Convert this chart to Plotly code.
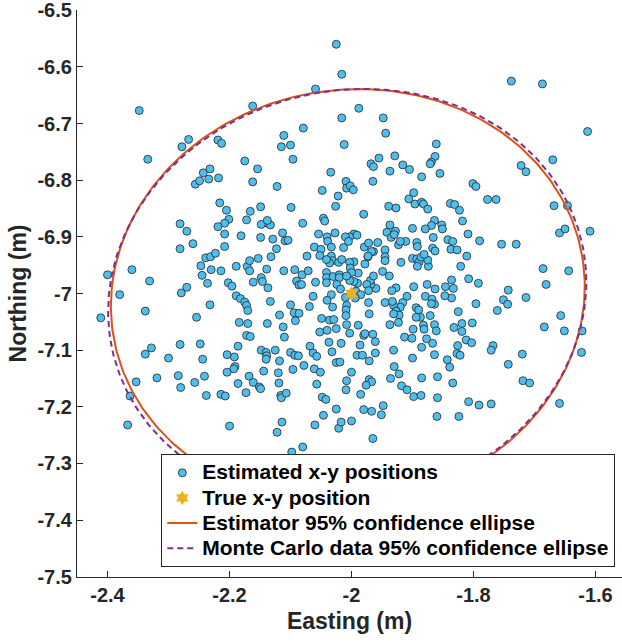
import numpy as np
import plotly.graph_objects as go

# ---------------- data (metres) ----------------
easting = [
 -2.348,-2.334,-2.278,-2.267,-2.219,-2.213,-2.162,-2.059,-2.079,-2.111,
 -2.115,-2.100,-2.096,-2.175,-2.154,-2.162,-2.256,-2.249,-2.243,-2.232,
 -2.234,-2.218,-2.122,-2.216,-2.205,-2.201,-2.208,-2.219,-2.208,-2.208,
 -2.281,-2.270,-2.260,-2.281,-2.172,-2.181,-2.166,-2.149,-2.138,-2.133,
 -2.148,-2.138,-2.099,-2.080,-2.113,-2.109,-2.104,-2.129,-2.149,-2.123,
 -2.061,-2.073,-2.247,-2.239,-2.231,-2.223,-2.230,-2.245,-2.236,-2.214,
 -2.189,-2.171,-2.167,-2.167,-2.153,-2.148,-2.146,-2.161,-2.139,-2.111,
 -2.093,-2.081,-2.071,-2.090,-2.086,-2.082,-2.202,-2.196,-2.189,-2.182,
 -2.175,-2.172,-2.170,-2.279,-2.270,-2.133,-2.137,-2.118,-2.100,-2.094,
 -2.086,-2.063,-2.069,-2.232,-2.400,-2.380,-2.360,-2.331,-2.338,-2.411,
 -2.059,-2.054,-2.254,-2.132,
 -2.025,-2.016,-1.738,-1.687,-1.613,-1.988,-2.016,-1.948,-1.944,-2.012,
 -1.861,-1.863,-1.869,-1.871,-1.855,-1.929,-1.955,-1.968,-1.964,-1.916,
 -1.905,-1.937,-1.885,-2.034,-1.965,-2.009,-2.008,-2.002,-1.997,-2.048,
 -2.022,-2.026,-1.801,-1.796,-1.777,-1.763,-1.722,-1.714,-1.670,-1.668,
 -1.646,-1.659,-1.650,-1.609,-1.686,-1.644,-1.681,-1.743,-1.714,-1.751,
 -1.744,-1.657,-1.898,-1.906,-1.896,-1.885,-1.882,-1.875,-1.939,-1.927,
 -1.980,-1.838,-1.831,-1.823,-1.864,-1.869,-1.852,-1.851,-1.879,-1.900,
 -1.818,-1.809,-1.790,-1.754,-1.730,-1.842,-1.834,-1.837,-1.827,-1.866,
 -1.867,-1.863,-1.937,-1.942,-1.935,-1.928,-1.930,-1.957,-1.964,-1.973,
 -1.978,-1.945,-1.945,-1.945,-1.949,-1.938,-1.919,-1.911,-1.923,-1.920,
 -1.893,-1.892,-1.900,-1.893,-1.889,-1.886,-1.892,-1.874,-1.875,-1.881,
 -1.821,-1.811,-1.808,-1.792,-1.836,-1.833,-1.846,-1.836,-1.847,-1.863,
 -1.876,-1.879,-1.898,-1.868,-1.864,-1.869,-1.796,-1.825,-1.927,-1.934,
 -1.909,-1.916,-1.920,-1.931,-1.933,-1.945,-1.972,-1.960,-1.968,-1.969,
 -1.975,-1.972,-1.964,-1.989,-1.990,-1.996,-2.003,-1.996,-2.003,-2.002,
 -2.000,-1.993,-1.985,-1.996,-2.003,-2.010,-2.005,-1.979,-1.972,-1.967,
 -1.973,-1.991,-2.013,-2.027,-2.040,-2.039,-2.033,-2.050,-2.052,-2.033,
 -2.031,-2.036,-2.041,-2.021,-2.016,-2.041,-2.041,-2.041,-2.030,-2.020,
 -2.020,-2.008,-2.024,-2.018,-2.033,-2.040,-2.010,-1.994,-2.008,-2.009,
 -2.009,-2.031,-1.971,-1.927,-1.922,-1.931,-1.894,-1.890,-1.887,-1.894,
 -1.871,-2.046,-2.044,-1.761,-2.049,-2.036,-2.029,
 -2.184,-2.170,-2.138,-2.112,-2.110,-2.172,-2.166,-2.186,-2.148,-2.140,
 -2.139,-2.140,-2.125,-2.118,-2.100,-2.093,-2.087,-2.096,-2.078,-2.068,
 -2.063,-2.057,-2.061,-2.057,-2.204,-2.192,-2.191,-2.193,-2.204,-2.186,
 -2.168,-2.161,-2.151,-2.149,-2.173,-2.144,-2.120,-2.119,-2.116,-2.115,
 -2.107,-2.214,-2.207,-2.238,-2.257,-2.241,-2.244,-2.248,-2.281,-2.300,
 -2.284,-2.280,-2.319,-2.328,-2.338,-2.353,-2.363,-2.367,-2.200,-2.122,
 -2.114,-2.098,-2.080,-2.060,-2.286,-2.092,
 -2.051,-2.048,-2.042,-2.046,-2.025,-2.021,-2.025,-2.032,-2.037,-2.052,
 -2.040,-2.025,-2.043,-2.027,
 -2.008,-1.989,-1.937,-1.923,-1.899,-1.882,-1.881,-1.864,-1.861,-1.832,
 -1.819,-1.819,-1.802,-2.003,-1.980,-1.978,-1.965,-1.961,-2.017,-1.986,
 -1.913,-1.901,-1.877,-1.867,-1.812,-1.803,-1.826,-1.768,-1.771,-1.885,
 -1.931,-1.864,-1.827,-1.822,-1.900,-1.961,-1.991,-1.982,-1.971,-2.019,
 -1.843,-1.839,-1.930,-2.000,-1.922,-1.936,-2.008,-2.009,-1.971,-1.967,
 -1.976,-1.885,-1.859,-1.834,-1.918,-1.909,-1.985,-1.898,-1.886,-1.859,
 -1.948,-1.951,-1.980,-1.967,-2.017,-2.000,-1.860,-1.824,-1.808,-1.791,
 -1.771,-1.965,-1.743,-1.720,-1.719,-1.708,-1.684,-1.651,-1.622,-1.623,
 -1.659,-2.000,-1.710,
]
northing = [
 -6.677,-6.763,-6.741,-6.728,-6.729,-6.735,-6.669,-6.639,-6.708,-6.721,
 -6.741,-6.738,-6.763,-6.766,-6.780,-6.803,-6.807,-6.801,-6.787,-6.780,
 -6.798,-6.796,-6.811,-6.840,-6.853,-6.869,-6.876,-6.882,-6.895,-6.917,
 -6.877,-6.890,-6.912,-6.921,-6.870,-6.898,-6.855,-6.847,-6.876,-6.879,
 -6.878,-6.871,-6.848,-6.876,-6.893,-6.907,-6.906,-6.904,-6.901,-6.921,
 -6.918,-6.934,-6.951,-6.937,-6.935,-6.929,-6.958,-6.968,-6.982,-6.960,
 -6.952,-6.952,-6.942,-6.960,-6.938,-6.972,-6.979,-6.980,-6.957,-6.960,
 -6.958,-6.967,-6.960,-6.978,-6.985,-6.984,-6.981,-6.987,-7.004,-7.009,
 -7.015,-7.021,-7.030,-6.999,-6.989,-7.014,-6.990,-7.038,-7.020,-7.034,
 -7.035,-7.005,-7.023,-7.020,-6.967,-7.002,-6.958,-6.978,-7.031,-7.043,
 -6.980,-6.895,-7.042,-6.935,
 -6.560,-6.613,-6.625,-6.630,-6.714,-6.673,-6.690,-6.690,-6.717,-6.737,
 -6.736,-6.758,-6.768,-6.771,-6.788,-6.757,-6.761,-6.771,-6.776,-6.773,
 -6.781,-6.784,-6.794,-6.786,-6.802,-6.802,-6.814,-6.810,-6.817,-6.818,
 -6.828,-6.846,-6.806,-6.811,-6.834,-6.834,-6.774,-6.785,-6.764,-6.845,
 -6.845,-6.893,-6.886,-6.890,-6.956,-6.960,-6.984,-6.994,-7.007,-7.011,
 -7.019,-7.039,-6.822,-6.833,-6.842,-6.839,-6.842,-6.851,-6.846,-6.849,
 -6.860,-6.841,-6.843,-6.853,-6.871,-6.880,-6.879,-6.886,-6.886,-6.885,
 -6.872,-6.895,-6.907,-6.913,-6.913,-6.905,-6.908,-6.922,-6.923,-6.901,
 -6.920,-6.925,-6.879,-6.892,-6.901,-6.890,-6.896,-6.910,-6.926,-6.935,
 -6.948,-6.923,-6.935,-6.942,-6.961,-6.969,-6.945,-6.908,-6.914,-6.908,
 -6.910,-6.917,-6.938,-6.939,-6.944,-6.936,-6.952,-6.952,-6.941,-6.931,
 -6.952,-6.934,-6.974,-6.982,-6.976,-6.991,-6.988,-7.008,-7.004,-6.992,
 -6.984,-7.005,-6.988,-7.010,-7.019,-7.018,-7.018,-7.032,-6.990,-6.995,
 -7.005,-7.016,-7.024,-7.021,-7.014,-7.016,-7.016,-6.991,-6.984,-6.977,
 -6.984,-6.995,-6.969,-6.964,-6.982,-6.979,-6.977,-6.944,-6.945,-6.955,
 -6.963,-6.996,-7.002,-6.895,-6.900,-6.900,-6.908,-6.918,-6.911,-6.926,
 -6.934,-6.897,-6.919,-6.893,-6.900,-6.908,-6.918,-6.922,-6.933,-6.934,
 -6.942,-6.946,-6.940,-6.945,-6.940,-6.963,-6.972,-6.981,-6.970,-6.967,
 -6.972,-6.969,-6.984,-6.992,-7.002,-7.012,-7.007,-7.008,-7.021,-7.029,
 -7.039,-7.024,-7.036,-7.031,-7.038,-7.036,-7.025,-7.029,-7.042,-7.042,
 -7.039,-6.867,-6.872,-7.030,-7.044,-7.047,-7.046,
 -7.051,-7.053,-7.053,-7.059,-7.077,-7.074,-7.076,-7.093,-7.100,-7.104,
 -7.110,-7.116,-7.100,-7.119,-7.104,-7.109,-7.110,-7.134,-7.127,-7.093,
 -7.105,-7.111,-7.133,-7.160,-7.108,-7.112,-7.129,-7.133,-7.139,-7.159,
 -7.146,-7.157,-7.165,-7.168,-7.175,-7.137,-7.140,-7.158,-7.180,-7.184,
 -7.176,-7.178,-7.181,-7.180,-7.157,-7.146,-7.116,-7.089,-7.090,-7.114,
 -7.145,-7.166,-7.149,-7.096,-7.107,-7.156,-7.181,-7.232,-7.234,-7.245,
 -7.227,-7.280,-7.271,-7.232,-7.300,-7.048,
 -7.139,-7.183,-7.187,-7.215,-7.204,-7.238,-7.122,-7.103,-7.086,-7.068,
 -7.065,-7.062,-7.299,-7.299,
 -7.055,-7.056,-7.055,-7.051,-7.063,-7.056,-7.063,-7.055,-7.066,-7.060,
 -7.053,-7.067,-7.052,-7.070,-7.074,-7.071,-7.072,-7.085,-7.088,-7.091,
 -7.077,-7.079,-7.080,-7.088,-7.082,-7.087,-7.092,-7.092,-7.100,-7.095,
 -7.100,-7.108,-7.106,-7.109,-7.114,-7.105,-7.109,-7.109,-7.119,-7.121,
 -7.117,-7.130,-7.129,-7.139,-7.142,-7.150,-7.154,-7.170,-7.152,-7.156,
 -7.162,-7.149,-7.147,-7.158,-7.163,-7.170,-7.178,-7.182,-7.180,-7.184,
 -7.198,-7.214,-7.205,-7.208,-7.227,-7.225,-7.217,-7.217,-7.191,-7.197,
 -7.195,-7.256,-7.125,-7.107,-7.154,-7.158,-7.059,-7.066,-7.066,-7.104,
 -7.194,-7.295,-7.297,
]

true_easting = [-2.0]
true_northing = [-7.0]

# 95% confidence ellipses: centre and covariance (m^2)
chi2_95 = 5.991
est_center = [-2.006, -7.005]
est_cov = [[0.02519, 0.00112], [0.00112, 0.02236]]
mc_center = [-2.007, -7.006]
mc_cov = [[0.02565, 0.00170], [0.00170, 0.02250]]

x_ticks = [-2.4, -2.2, -2.0, -1.8, -1.6]
x_ticktext = ["-2.4", "-2.2", "-2", "-1.8", "-1.6"]
y_ticks = [-7.5, -7.4, -7.3, -7.2, -7.1, -7.0, -6.9, -6.8, -6.7, -6.6, -6.5]
y_ticktext = ["-7.5", "-7.4", "-7.3", "-7.2", "-7.1", "-7", "-6.9", "-6.8", "-6.7", "-6.6", "-6.5"]

legend_names = [
    "Estimated x-y positions",
    "True x-y position",
    "Estimator 95% confidence ellipse",
    "Monte Carlo data 95% confidence ellipse",
]


def ellipse(center, cov, n=361):
    vals, vecs = np.linalg.eigh(np.array(cov))
    t = np.linspace(0, 2 * np.pi, n)
    circ = np.vstack([np.cos(t), np.sin(t)])
    pts = vecs @ (np.sqrt(vals * chi2_95)[:, None] * circ)
    return pts[0] + center[0], pts[1] + center[1]


def lg(name):
    return f"<span style='font-size:21px'>{name}</span>"


ex, ey = ellipse(est_center, est_cov)
mx, my = ellipse(mc_center, mc_cov)

AX = "#262626"
FONT = "Liberation Sans, Arial, Helvetica, sans-serif"

fig = go.Figure()
fig.add_trace(go.Scatter(
    x=easting, y=northing, mode="markers", name=lg(legend_names[0]),
    marker=dict(size=8, color="#4DBEEE", line=dict(color="#262626", width=0.8)),
))
fig.add_trace(go.Scatter(
    x=true_easting, y=true_northing, mode="markers", name=lg(legend_names[1]),
    marker=dict(symbol="hexagram", size=11, color="#EDB120", line=dict(width=0)),
))
fig.add_trace(go.Scatter(
    x=ex, y=ey, mode="lines", name=lg(legend_names[2]),
    line=dict(color="#D95319", width=2),
))
fig.add_trace(go.Scatter(
    x=mx, y=my, mode="lines", name=lg(legend_names[3]),
    line=dict(color="#7E2F8E", width=2, dash="6px,4px"),
))

axis_common = dict(
    showgrid=False, zeroline=False, showline=True, linecolor=AX, linewidth=1.3,
    ticks="inside", ticklen=6, tickwidth=1.3, tickcolor=AX, mirror=False,
    automargin=False, ticklabeloverflow="allow",
    tickfont=dict(family=FONT, size=20, color=AX, weight="bold"),
)

fig.update_layout(
    width=622, height=643,
    margin=dict(l=77, r=0, t=10, b=66, autoexpand=False),
    paper_bgcolor="white", plot_bgcolor="white",
    xaxis=dict(range=[-2.45, -2.45 + 545 / 610], tickvals=x_ticks, ticktext=x_ticktext,
               title=dict(text="Easting (m)", standoff=7,
                          font=dict(family=FONT, size=23, color=AX, weight="bold")),
               **axis_common),
    yaxis=dict(range=[-7.5005, -6.4995], tickvals=y_ticks, ticktext=y_ticktext,
               title=dict(text="Northing (m)", standoff=4,
                          font=dict(family=FONT, size=23, color=AX, weight="bold")),
               **axis_common),
    legend=dict(x=(615 - 77) / 545, xanchor="right", y=10 / 567, yanchor="bottom",
                bgcolor="white", bordercolor=AX, borderwidth=1.3,
                font=dict(family=FONT, size=17, color="black", weight="bold"),
                tracegroupgap=0),
    showlegend=True,
)

fig.write_html("out.html",
               config={"displayModeBar": False},
               post_script="document.body.style.margin='0px';document.body.style.overflow='hidden';")
